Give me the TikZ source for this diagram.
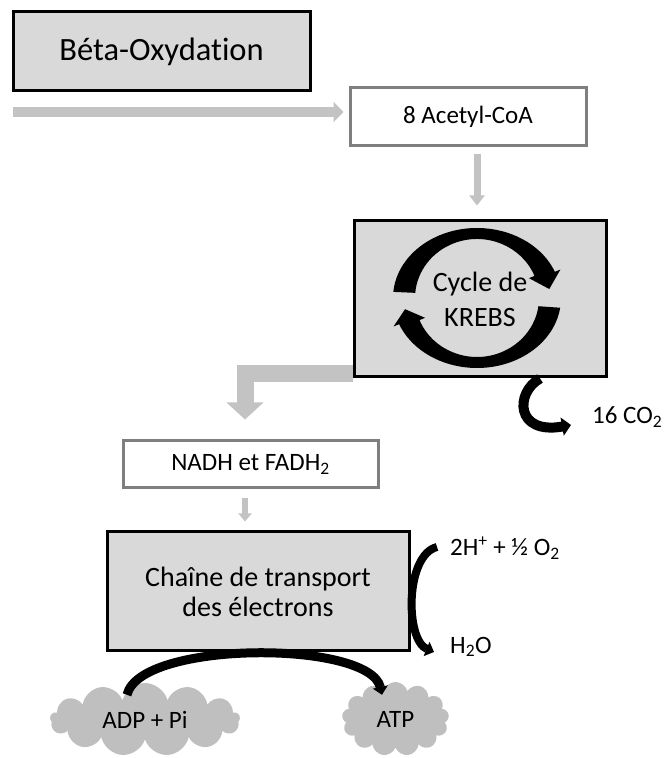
\documentclass[tikz,border=0pt]{standalone}
\usepackage{fontspec}
\setmainfont{Carlito}[Ligatures={NoCommon}]
\usetikzlibrary{arrows.meta,shapes.symbols,calc}
\definecolor{boxfill}{HTML}{D9D9D9}
\definecolor{arrowgray}{HTML}{C3C3C3}
\definecolor{boxgray}{HTML}{7F7F7F}
\definecolor{cloudgray}{HTML}{BFBFBF}
\begin{document}
\begin{tikzpicture}[x=1pt,y=1pt,
  darkbox/.style={draw=black, line width=3pt, fill=boxfill, inner sep=0pt, align=center},
  lightbox/.style={draw=boxgray, line width=3pt, fill=white, inner sep=0pt},
  grayarrow/.style={draw=arrowgray},
  blackarrow/.style={draw=black, line width=8pt},
  puff/.style={cloud, cloud puffs=13, cloud ignores aspect, fill=cloudgray, draw=none, inner sep=0pt},
  lbl/.style={font=\fontsize{25}{30}\selectfont, inner sep=0pt, anchor=west},
  mid/.style={font=\fontsize{25}{30}\selectfont}
]
\useasboundingbox (0,0) rectangle (664,758);

% boxes
\node[darkbox, minimum width=297, minimum height=79, font=\fontsize{32.5}{39}\selectfont] (beta) at (161.5,706.5) {Béta-Oxydation};
\node[lightbox, minimum width=236, minimum height=58, mid] (acetyl) at (468,641) {8 Acetyl-CoA};
\node[darkbox, minimum width=252, minimum height=156, font=\fontsize{28}{35}\selectfont] (krebs) at (480,459) {Cycle de\\KREBS};
\node[lightbox, minimum width=255, minimum height=47, mid] (nadh) at (250.5,293.5) {NADH et FADH\textsubscript{2}};
\node[darkbox, minimum width=302, minimum height=119, font=\fontsize{28}{30}\selectfont] (chaine) at (258,166.5) {Chaîne de transport\\des électrons};

% clouds
\node[puff, minimum width=190, minimum height=73, mid] (adp) at (145,38.5) {ADP + Pi};
\node[puff, minimum width=107, minimum height=74, mid] (atp) at (395.5,39) {ATP};

% labels
\node[lbl] (co2) at (592,341) {16 CO\textsubscript{2}};
\node[lbl] (hplus) at (450,210) {2H\textsuperscript{+} + ½ O\textsubscript{2}};
\node[lbl] (h2o) at (450,111) {H\textsubscript{2}O};

% gray arrows
\coordinate (bstart) at (13,646);
\draw[grayarrow, line width=10pt, -{Triangle[length=10pt,width=20pt]}, shorten >=5pt] (bstart) -- (acetyl.west |- bstart);
\draw[grayarrow, line width=7pt, -{Triangle[length=10pt,width=15pt]}, shorten <=7pt, shorten >=14pt] ([xshift=9pt]acetyl.south) -- ([xshift=-3pt]krebs.north);
\draw[grayarrow, line width=17pt, line join=miter, -{Triangle[length=17pt,width=36pt]}] ($(krebs.south west)+(0,5)$) -| ($(nadh.north)+(-5.5,20)$);
\draw[grayarrow, line width=6pt, -{Triangle[length=8pt,width=13pt]}] ($(nadh.south)+(-5.5,-9)$) -- ($(nadh.south |- chaine.north)+(-5.5,9)$);

% Krebs cycle arrows
\coordinate (kc) at ($(krebs.center)+(-3,1)$);
\fill[black] ($(kc)+(175:84 and 70)$) arc[start angle=175, end angle=22, x radius=84, y radius=70]
  -- ($(kc)+(22:90 and 76)$) -- ($(kc)+(8:73 and 64.5)$) -- ($(kc)+(22:56 and 53)$)
  -- ($(kc)+(22:62 and 59)$) arc[start angle=22, end angle=175, x radius=62, y radius=59] -- cycle;
\fill[black] ($(kc)+(-8:84 and 70)$) arc[start angle=-8, end angle=-158, x radius=84, y radius=70]
  -- ($(kc)+(-158:90 and 76)$) -- ($(kc)+(-170:73 and 64.5)$) -- ($(kc)+(-158:56 and 53)$)
  -- ($(kc)+(-158:62 and 59)$) arc[start angle=-158, end angle=-8, x radius=62, y radius=59] -- cycle;

% black curved arrows
\draw[blackarrow, line width=10pt, -{Triangle[length=9pt,width=18pt]}] ([xshift=60pt]krebs.south) .. controls +(-25,-14) and (515,323) .. ($(co2.west)+(-21,-8)$);
\draw[blackarrow, -{Triangle[length=8pt,width=15pt]}] ($(hplus.west)+(-13,1)$) .. controls (405,203) and (405,118) .. ($(h2o.west)+(-16,-5)$);
\draw[blackarrow, line width=9pt, -{Triangle[length=8pt,width=15pt]}] ($(adp.north)+(-18,-12)$) .. controls (140,118) and (370,118) .. ($(atp.north)+(-13.5,-13)$);
\end{tikzpicture}
\end{document}
